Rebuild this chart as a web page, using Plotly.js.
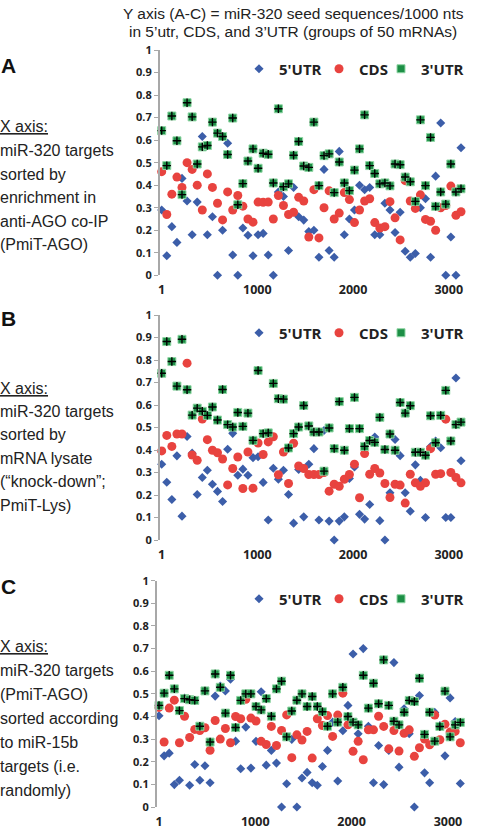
<!DOCTYPE html>
<html>
<head>
<meta charset="utf-8">
<script src="https://cdn.plot.ly/plotly-3.0.1.min.js"></script>
<style>html,body{margin:0;padding:0;background:#fff;}#chart{width:477px;height:834px;}</style>
</head>
<body>
<div id="chart"></div>
<script>
// ---- data (miR-320 seed sequences / 1000 nts, groups of 50 mRNAs) ----
const seriesNames = ["5'UTR", "CDS", "3'UTR"];
const xTickVals = [1, 1000, 2000, 3000];
const xTickText = ["1", "1000", "2000", "3000"];
const groupStep = 53; // spacing of the plotted groups along the rank axis

// Panel A
const utr5A = [0.29,0.087,0.216,0.146,0.43,0.33,0.18,0.325,0.616,0.18,
  0.26,0,0.2,0.586,0.09,0,0.21,0.178,0.087,0.18,
  0.186,0.09,0,0.37,0.35,0.11,0.39,0.26,0.245,0.194,
  0.2,0.08,0.47,0.11,0.08,0.55,0.18,0.25,0.29,0.4,
  0.38,0.39,0.18,0.18,0.32,0.29,0.19,0.28,0.107,0.08,
  0.097,0.30,0.34,0.08,0.44,0.676,0,0.17,0,0.566];
const cdsA = [0.46,0.27,0.36,0.436,0.39,0.50,0.47,0.40,0.29,0.45,
  0.39,0.32,0.246,0.37,0.29,0.354,0.307,0.25,0.236,0.325,
  0.324,0.325,0.25,0.354,0.31,0.27,0.28,0.346,0.33,0.17,
  0.38,0.166,0.30,0.375,0.25,0.276,0.367,0.336,0.234,0.29,
  0.33,0.34,0.234,0.21,0.216,0.327,0.255,0.157,0.42,0.33,
  0.297,0.357,0.248,0.24,0.2,0.30,0.31,0.396,0.266,0.282];
const utr3A = [0.642,0.487,0.707,0.597,0.358,0.766,0.703,0.494,0.57,0.576,
  0.68,0.631,0.616,0.536,0.698,0.313,0.407,0.507,0.561,0.475,
  0.542,0.537,0.41,0.739,0.393,0.406,0.533,0.594,0.485,0.479,
  0.68,0.398,0.531,0.539,0.367,0.503,0.41,0.376,0.467,0.561,
  0.712,0.487,0.452,0.406,0.41,0.397,0.494,0.491,0.436,0.415,
  0.328,0.69,0.398,0.612,0.306,0.37,0.316,0.494,0.37,0.384];

// Panel B
const utr5B = [0.337,0.257,0.18,0.374,0.106,0.46,0.386,0.202,0.278,0.31,
  0.248,0.216,0.171,0.403,0.474,0.288,0.315,0.288,0.366,0.37,
  0.256,0.089,0.319,0.27,0.31,0.202,0.075,0.313,0.103,0.337,
  0.406,0.089,0.487,0.084,0.0,0.084,0.103,0.273,0.325,0.114,
  0.093,0.158,0.458,0.086,0.0,0.21,0.447,0.375,0.21,0.128,
  0.334,0.265,0.1,0.415,0.44,0.41,0.1,0.1,0.72,0.352];
const cdsB = [0.396,0.465,0.416,0.471,0.471,0.786,0.378,0.354,0.538,0.446,
  0.399,0.388,0.36,0.245,0.318,0.369,0.229,0.391,0.23,0.431,
  0.38,0.436,0.459,0.29,0.391,0.251,0.43,0.329,0.318,0.291,
  0.291,0.291,0.30,0.217,0.248,0.239,0.27,0.291,0.337,0.188,
  0.384,0.292,0.318,0.298,0.251,0.189,0.248,0.244,0.164,0.292,
  0.254,0.239,0.254,0.406,0.292,0.295,0.537,0.3,0.278,0.254];
const utr3B = [0.741,0.882,0.793,0.684,0.892,0.668,0.555,0.586,0.572,0.554,
  0.591,0.533,0.669,0.513,0.502,0.567,0.505,0.564,0.443,0.753,
  0.473,0.476,0.696,0.628,0.626,0.409,0.473,0.502,0.598,0.507,
  0.48,0.48,0.306,0.498,0.406,0.615,0.399,0.495,0.634,0.495,
  0.416,0.442,0.434,0.545,0.402,0.471,0.399,0.611,0.564,0.597,
  0.39,0.39,0.377,0.552,0.432,0.554,0.665,0.44,0.513,0.524];

// Panel C
const utr5C = [0.403,0.226,0.238,0.099,0.118,0.481,0.096,0.188,0.118,0.182,
  0.107,0.49,0.535,0.513,0.565,0.291,0.169,0.353,0.172,0.29,
  0.509,0.185,0.25,0.194,0.0,0.103,0.299,0.0,0.128,0.153,
  0.107,0.096,0.179,0.25,0.375,0.115,0.337,0.449,0.676,0.324,
  0.7,0.357,0.107,0.272,0.099,0.25,0.638,0.176,0.434,0.324,
  0.0,0.493,0.151,0.107,0.418,0.36,0.226,0.482,0.378,0.104];
const cdsC = [0.44,0.287,0.437,0.472,0.284,0.401,0.307,0.343,0.338,0.35,
  0.251,0.382,0.3,0.347,0.284,0.4,0.39,0.476,0.393,0.38,
  0.29,0.276,0.356,0.272,0.338,0.407,0.218,0.319,0.296,0.334,
  0.216,0.39,0.36,0.404,0.312,0.406,0.503,0.363,0.246,0.29,
  0.209,0.341,0.341,0.401,0.356,0.257,0.338,0.247,0.326,0.341,
  0.224,0.262,0.3,0.275,0.406,0.297,0.366,0.331,0.334,0.284];
const utr3C = [0.449,0.503,0.582,0.522,0.426,0.479,0.474,0.471,0.357,0.513,
  0.287,0.588,0.529,0.415,0.582,0.351,0.471,0.5,0.5,0.444,
  0.429,0.479,0.401,0.522,0.556,0.31,0.424,0.472,0.5,0.444,
  0.488,0.444,0.421,0.357,0.5,0.375,0.529,0.4,0.375,0.363,
  0.582,0.437,0.547,0.456,0.65,0.449,0.379,0.363,0.419,0.471,
  0.466,0.569,0.321,0.419,0.291,0.356,0.512,0.31,0.363,0.374];

// ---- build ----
const H = 834, W = 477;
const px = v => v / W;
const py = v => 1 - v / H;
const panels = [
  {u5: utr5A, cd: cdsA, u3: utr3A, xa: 'x',  ya: 'y',  legY: 69},
  {u5: utr5B, cd: cdsB, u3: utr3B, xa: 'x2', ya: 'y2', legY: 333},
  {u5: utr5C, cd: cdsC, u3: utr3C, xa: 'x3', ya: 'y3', legY: 599}
];
const legX = [239, 319, 381]; // left edge of each legend entry, px
const BLUE = '#3c5ea9', RED = '#e8433f', GREEN = '#1d8f46', GREEN_EDGE = '#8fd6a4';
const legFont = {family: '"Open Sans", Lato, sans-serif', size: 15, color: '#222', weight: 700};
const traces = [];
const legends = {};
panels.forEach((p, pi) => {
  const xs = p.u5.map((_, i) => 1 + i * groupStep);
  const lgName = s => { const n = pi * 3 + s + 1; return n === 1 ? 'legend' : 'legend' + n; };
  [0, 1, 2].forEach(s => {
    legends[lgName(s)] = {orientation: 'h', x: px(legX[s]), y: py(p.legY), xanchor: 'left', yanchor: 'middle',
      bgcolor: 'rgba(0,0,0,0)', borderwidth: 0, font: legFont, itemclick: false, itemdoubleclick: false};
  });
  const common = {type: 'scatter', mode: 'markers', xaxis: p.xa, yaxis: p.ya, cliponaxis: false, hoverinfo: 'skip'};
  traces.push(Object.assign({}, common, {x: xs, y: p.u5, name: seriesNames[0], legend: lgName(0),
    marker: {symbol: 'diamond', size: 7, color: BLUE}}));
  traces.push(Object.assign({}, common, {x: xs, y: p.cd, name: seriesNames[1], legend: lgName(1),
    marker: {symbol: 'circle', size: 9, color: RED}}));
  traces.push(Object.assign({}, common, {x: xs, y: p.u3, name: seriesNames[2], legend: lgName(2),
    marker: {symbol: 'square', size: 8, color: GREEN, line: {color: GREEN_EDGE, width: 1}}}));
  traces.push(Object.assign({}, common, {x: xs, y: p.u3, showlegend: false, legend: lgName(2),
    marker: {symbol: 'cross-thin', size: 6, color: '#000', line: {color: '#000', width: 1.4}}}));
});

const tickFont = {family: '"Open Sans", Lato, sans-serif', size: 12.5, color: '#222', weight: 700};
function yAx(dom, anchor) {
  return {domain: dom, anchor: anchor, range: [0, 1], dtick: 0.1, tick0: 0, showgrid: false, zeroline: false,
    showline: true, linecolor: '#a8a8a8', linewidth: 2, ticks: 'outside', ticklen: 4,
    tickcolor: '#a8a8a8', tickwidth: 1, tickfont: Object.assign({}, tickFont, {size: 11}), fixedrange: true};
}
function xAx(dom, rng, anchor) {
  return {domain: dom, range: rng, anchor: anchor, tickmode: 'array', tickvals: xTickVals, ticktext: xTickText,
    showgrid: false, zeroline: false, showline: false, ticks: '', ticklabelstandoff: 5,
    tickfont: tickFont, fixedrange: true};
}

const txtFont = {family: '"Liberation Sans", Arial, sans-serif', size: 16, color: '#222'};
const annotations = [];
function addText(text, xPix, yPix, font, anchor) {
  annotations.push({text: text, x: px(xPix), y: py(yPix), xref: 'paper', yref: 'paper',
    xanchor: anchor || 'left', yanchor: 'middle', showarrow: false, font: font || txtFont});
}
const titleFont = {family: '"Liberation Sans", Arial, sans-serif', size: 15.5, color: '#222'};
addText('Y axis (A-C) = miR-320 seed sequences/1000 nts', 293, 13, titleFont, 'center');
addText('in 5’utr, CDS, and 3’UTR (groups of 50 mRNAs)', 293, 32, titleFont, 'center');
const letterFont = {family: '"Liberation Sans", Arial, sans-serif', size: 21, color: '#111', weight: 700};
addText('<b>A</b>', -1, 66, letterFont);
addText('<b>B</b>', -1, 318, letterFont);
addText('<b>C</b>', -1, 586, letterFont);
const textA = ['<u>X axis:</u>', 'miR-320 targets', 'sorted by', 'enrichment in', 'anti-AGO co-IP', '(PmiT-AGO)'];
const textB = ['<u>X axis:</u>', 'miR-320 targets', 'sorted by', 'mRNA lysate', '(“knock-down”;', 'PmiT-Lys)'];
const textC = ['<u>X axis:</u>', 'miR-320 targets', '(PmiT-AGO)', 'sorted according', 'to miR-15b', 'targets (i.e.', 'randomly)'];
textA.forEach((t, i) => addText(t, -2, 127 + i * 23.5));
textB.forEach((t, i) => addText(t, -2, 388 + i * 23.4));
textC.forEach((t, i) => addText(t, -2, 646 + i * 24));

const layout = Object.assign({
  width: W, height: H,
  margin: {l: 0, r: 0, t: 0, b: 0, pad: 0},
  paper_bgcolor: '#fff', plot_bgcolor: '#fff',
  showlegend: true,
  xaxis:  xAx([px(160), px(467)], [-16.8, 3190.7], 'y'),
  xaxis2: xAx([px(160), px(467)], [-16.8, 3190.7], 'y2'),
  xaxis3: xAx([px(157), px(465)], [-19.8, 3176.8], 'y3'),
  yaxis:  yAx([py(275.3), py(50)], 'x'),
  yaxis2: yAx([py(540), py(315)], 'x2'),
  yaxis3: yAx([py(807), py(580.7)], 'x3'),
  annotations: annotations
}, legends);
Plotly.newPlot('chart', traces, layout, {staticPlot: true, displayModeBar: false});
</script>
</body>
</html>
